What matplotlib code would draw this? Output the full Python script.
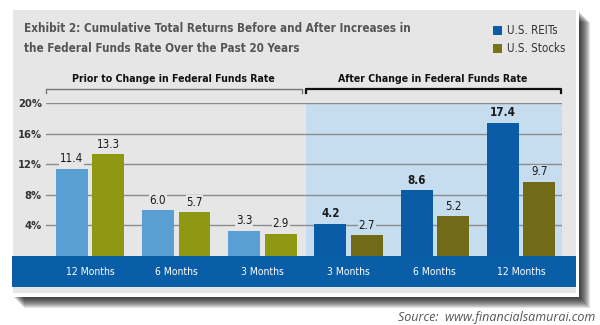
import matplotlib.pyplot as plt
from matplotlib.patches import Rectangle
from matplotlib.lines import Line2D

# dati
periodi = ['12 Months', '6 Months', '3 Months', '3 Months', '6 Months', '12 Months']
reits = [11.4, 6.0, 3.3, 4.2, 8.6, 17.4]
stocks = [13.3, 5.7, 2.9, 2.7, 5.2, 9.7]
yticks = [4, 8, 12, 16, 20]
ytick_labels = ['4%', '8%', '12%', '16%', '20%']

titolo = ('Exhibit 2: Cumulative Total Returns Before and After Increases in\n'
          'the Federal Funds Rate Over the Past 20 Years')
gruppi = ['Prior to Change in Federal Funds Rate', 'After Change in Federal Funds Rate']
serie = ['U.S. REITs', 'U.S. Stocks']
fonte = 'Source:  www.financialsamurai.com'

plt.rcParams['font.family'] = ['DejaVu Sans']
plt.rcParams['font.stretch'] = 'condensed'

W, H = 600, 325
grigio = '#e6e6e6'
azzurro_chiaro = '#c6dcef'
blu_fascia = '#0a5ea8'
col_reits = ['#5a9fd4'] * 3 + ['#0b5ca6'] * 3
col_stocks = ['#8e9812'] * 3 + ['#716a17'] * 3


def fx(px):
    return px / W


def fy(py):
    return 1 - py / H


fig = plt.figure(figsize=(6, 3.25), dpi=100)
fig.patch.set_facecolor('white')

# ombra del pannello
for i in range(11):
    fig.patches.append(Rectangle((fx(14 + i), fy(298 + i)), fx(566), (298 - 12) / H,
                                 transform=fig.transFigure, facecolor='black',
                                 alpha=0.11, edgecolor='none', zorder=0))
fig.patches.append(Rectangle((fx(10), fy(297)), fx(569), 289 / H, transform=fig.transFigure,
                             facecolor='white', edgecolor='none', zorder=1))
fig.patches.append(Rectangle((fx(13), fy(293)), fx(563), 283 / H, transform=fig.transFigure,
                             facecolor=grigio, edgecolor='none', zorder=2))
# area azzurra "after"
fig.patches.append(Rectangle((fx(306), fy(256)), fx(256), 153 / H, transform=fig.transFigure,
                             facecolor=azzurro_chiaro, edgecolor='none', zorder=3))
# fascia blu in basso
fig.patches.append(Rectangle((fx(12), fy(287)), fx(564), 31 / H, transform=fig.transFigure,
                             facecolor=blu_fascia, edgecolor='none', zorder=3))

ax = fig.add_axes([fx(46), fy(256), fx(516), 153 / H])
ax.patch.set_alpha(0)
ax.set_zorder(5)

x = list(range(len(periodi)))
larg = 0.37
off = 0.212
ax.bar([i - off for i in x], reits, width=larg, color=col_reits, zorder=3)
ax.bar([i + off for i in x], stocks, width=larg, color=col_stocks, zorder=3)

for y in yticks:
    ax.axhline(y, color='#8c8c8c', lw=1.0, zorder=1)

for i in x:
    bg = grigio if i < 3 else azzurro_chiaro
    peso_r = 'bold' if i >= 3 else 'normal'
    ax.text(i - off, reits[i] + 0.45, f'{reits[i]:.1f}', ha='center', va='bottom',
            fontsize=8.3, color='#1a1a1a', fontweight=peso_r, zorder=4,
            bbox=dict(facecolor=bg, edgecolor='none', pad=0.5))
    ax.text(i + off, stocks[i] + 0.45, f'{stocks[i]:.1f}', ha='center', va='bottom',
            fontsize=8.3, color='#1a1a1a', zorder=4,
            bbox=dict(facecolor=bg, edgecolor='none', pad=0.5))

ax.set_xlim(-0.51, 5.475)
ax.set_ylim(0, 20)
ax.set_xticks([])
ax.set_yticks(yticks)
ax.set_yticklabels(ytick_labels, fontsize=8, color='#333333', fontweight='bold')
ax.tick_params(axis='y', length=0, pad=3)
for s in ax.spines.values():
    s.set_visible(False)

# etichette dei periodi nella fascia blu
for i, p in enumerate(periodi):
    xp = 46 + (i + 0.51) * 86.2
    fig.text(fx(xp), fy(272), p, ha='center', va='center', color='white', fontsize=7.5)

# titolo
fig.text(fx(24), fy(38.5), titolo, ha='left', va='center', fontsize=8.4, fontweight='bold',
         color='#555555', linespacing=1.75)

# legenda
for k, (nome, c) in enumerate(zip(serie, ['#0b5ca6', '#7a7216'])):
    yc = 30 + k * 18
    fig.patches.append(Rectangle((fx(493), fy(yc + 4.5)), fx(9), 9 / H, transform=fig.transFigure,
                                 facecolor=c, edgecolor='none', zorder=6))
    fig.text(fx(507), fy(yc), nome, ha='left', va='center', fontsize=8.3, color='#333333')

# parentesi dei gruppi
for (x0, x1, col, lw, cx), testo in zip([(46, 302, '#777777', 1.0, 173),
                                        (306, 561, '#111111', 1.6, 433)], gruppi):
    fig.lines.append(Line2D([fx(x0), fx(x0), fx(x1), fx(x1)], [fy(93), fy(89), fy(89), fy(93)],
                            transform=fig.transFigure, color=col, lw=lw, zorder=6))
    fig.text(fx(cx), fy(79), testo, ha='center', va='center', fontsize=7.6,
             fontweight='bold', color='#111111')

# fonte
fig.text(fx(595), fy(318), fonte, ha='right', va='center', fontsize=9, style='italic',
         color='#555555', family=['Open Sans', 'DejaVu Sans'], fontstretch='normal')

fig.savefig('out.png', dpi=100)
